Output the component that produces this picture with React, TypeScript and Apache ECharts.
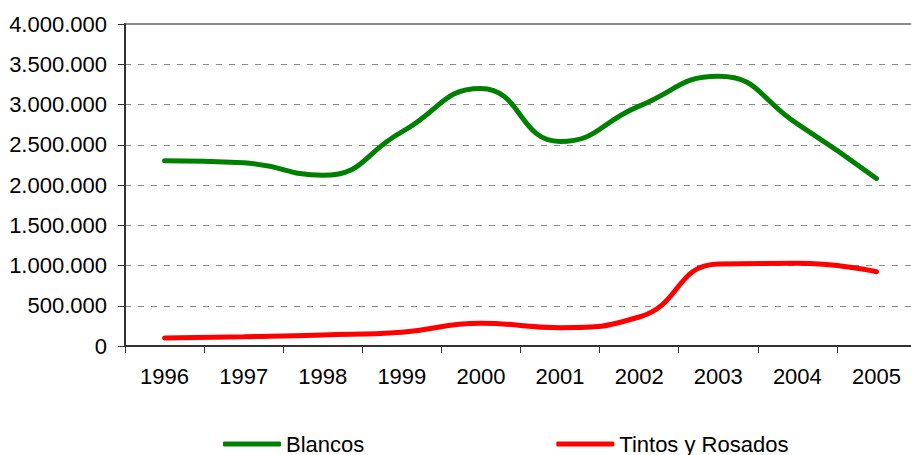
import React, { useEffect, useRef } from "react";
import * as echarts from "echarts";

const years = ["1996", "1997", "1998", "1999", "2000", "2001", "2002", "2003", "2004", "2005"];
const blancos = [2300000, 2275000, 2120000, 2660000, 3200000, 2540000, 2980000, 3350000, 2760000, 2080000];
const tintosRosados = [100000, 116000, 137000, 172000, 282000, 228000, 360000, 1018000, 1027000, 923000];
const seriesNames = ["Blancos", "Tintos y Rosados"];

const fmt = (v: number) => String(Math.round(v)).replace(/\B(?=(\d{3})+(?!\d))/g, ".");

export default function App() {
  const ref = useRef<HTMLDivElement>(null);
  useEffect(() => {
    if (!ref.current) return;
    const chart = echarts.init(ref.current, null, { renderer: "svg" });
    const font = "Arial, 'Liberation Sans', sans-serif";
    chart.setOption({
      animation: false,
      backgroundColor: "#ffffff",
      textStyle: { fontFamily: font },
      grid: {
        left: 125,
        right: -5,
        top: 24,
        bottom: 109,
        show: true,
        borderColor: "#8c8c8c",
        borderWidth: 2,
        outerBoundsMode: "none",
      },
      legend: {
        data: seriesNames,
        left: 218,
        top: 428,
        itemWidth: 58,
        itemHeight: 5,
        itemGap: 192,
        icon: "roundRect",
        textStyle: { fontSize: 22, color: "#000", fontFamily: font },
      },
      xAxis: {
        type: "category",
        data: years,
        boundaryGap: true,
        axisLine: { lineStyle: { color: "#333", width: 2 } },
        axisTick: { show: true, length: 7, lineStyle: { color: "#333", width: 1 } },
        axisLabel: { fontSize: 22, color: "#000", margin: 19, fontFamily: font },
        splitLine: { show: false },
      },
      yAxis: {
        type: "value",
        min: 0,
        max: 4000000,
        interval: 500000,
        axisLine: { show: true, lineStyle: { color: "#333", width: 2 } },
        axisTick: { show: true, length: 7, lineStyle: { color: "#333", width: 1 } },
        axisLabel: { fontSize: 22, color: "#000", margin: 18, fontFamily: font, formatter: fmt },
        splitLine: {
          show: true,
          showMaxLine: false,
          lineStyle: { color: "#8c8c8c", width: 1, type: [6, 7] },
        },
      },
      series: [
        {
          name: seriesNames[0],
          type: "line",
          data: blancos,
          smooth: 0.5,
          symbol: "none",
          itemStyle: { color: "#008000" },
          lineStyle: { color: "#008000", width: 5, cap: "round" },
        },
        {
          name: seriesNames[1],
          type: "line",
          data: tintosRosados,
          smooth: 0.5,
          symbol: "none",
          itemStyle: { color: "#ff0000" },
          lineStyle: { color: "#ff0000", width: 5, cap: "round" },
        },
      ],
    });
    return () => chart.dispose();
  }, []);
  return (
    <div
      ref={ref}
      style={{ position: "fixed", left: 0, top: 0, width: 911, height: 455, background: "#fff" }}
    />
  );
}
